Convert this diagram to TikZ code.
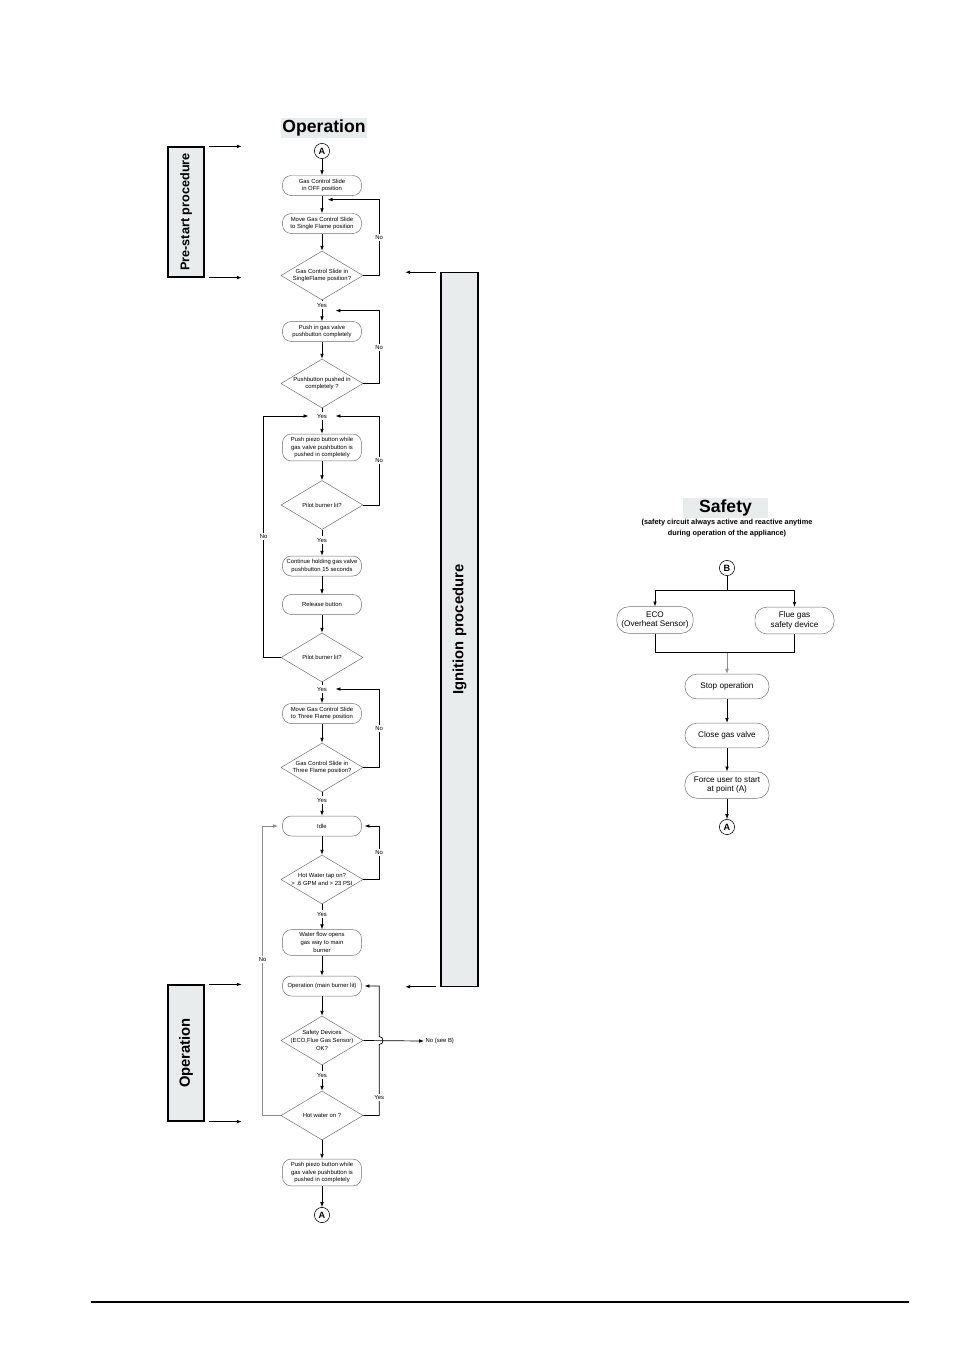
\documentclass[tikz,border=0pt]{standalone}
\usepackage{fontspec}
\setmainfont{Liberation Sans}
\usetikzlibrary{shapes.geometric,arrows.meta,calc,positioning}
\definecolor{sidegrey}{RGB}{232,236,236}
\definecolor{boxline}{RGB}{110,110,110}
\newcommand\tinyfont{\fontsize{4.2}{5.6}\selectfont}
\newcommand\smallfont{\fontsize{5.8}{7}\selectfont}

\tikzset{
  flow/.style={-{Latex[length=3.5pt,width=2.6pt]}, line width=0.5pt},
  line/.style={line width=0.5pt},
  stepbox/.style={draw=boxline, line width=0.35pt, rounded corners=0.22cm, minimum width=1.975cm, minimum height=0.5cm, inner xsep=1pt, inner ysep=2pt, align=center, font=\tinyfont},
  dtext/.style={align=center, font=\tinyfont, inner sep=0pt},
  decide/.style={diamond, draw=boxline, line width=0.35pt, minimum width=2.05cm, minimum height=1.225cm, inner sep=0pt, label={[dtext]center:{#1}}},
  lbl/.style={fill=white, inner sep=1pt, font=\tinyfont},
  yes/.style={inner xsep=6pt, inner ysep=1pt, font=\tinyfont},
  joint/.style={circle, draw, line width=0.4pt, minimum size=0.38cm, inner sep=0pt, font=\bfseries\fontsize{6.5}{7}\selectfont},
  sidebox/.style={draw, line width=0.8pt, fill=sidegrey, rotate=90, font=\bfseries\fontsize{10.5}{12}\selectfont},
  header/.style={fill=sidegrey, inner sep=1pt, minimum height=0.5cm, font=\bfseries\fontsize{12.5}{14}\selectfont},
  safebox/.style={draw=boxline, line width=0.35pt, rounded corners=0.3cm, minimum width=2.1cm, minimum height=0.62cm, align=center, font=\smallfont},
  subnote/.style={align=center, inner sep=0pt, font=\bfseries\fontsize{5.2}{7.6}\selectfont},
}

\begin{document}
\begin{tikzpicture}[x=0.025cm, y=-0.025cm]
  \useasboundingbox (0,0) rectangle (954,1350);

  % side bars
  \node[sidebox, minimum width=3.25cm, minimum height=0.9cm, font=\bfseries\fontsize{9}{10}\selectfont] (prestart) at (186,212) {Pre-start procedure};
  \draw[flow] ([xshift=3pt]prestart.south east) -- ++(33,0);
  \draw[flow] ([xshift=3pt]prestart.south west) -- ++(33,0);
  \node[sidebox, minimum width=17.83cm, minimum height=0.925cm] (ignition) at (459.5,629.5) {Ignition procedure};
  \draw[flow] ([xshift=-3pt]ignition.north east) -- ++(-31,0);
  \draw[flow] ([xshift=-3pt]ignition.north west) -- ++(-31,0);
  \node[sidebox, minimum width=3.4cm, minimum height=0.9cm] (opside) at (186,1053) {Operation};
  \draw[flow] ([xshift=3pt]opside.south east) -- ++(33,0);
  \draw[flow] ([xshift=3pt]opside.south west) -- ++(33,0);

  % operation chart
  \node[header, minimum width=2.15cm] (ophead) at (324,128) {Operation};
  \node[joint] (a1) at (322,151) {A};
  \node[stepbox] (n1) at (322,185.5) {Gas Control Slide\\in OFF position};
  \node[stepbox] (n2) at (322,223.5) {Move Gas Control Slide\\to Single Flame position};
  \node[decide={Gas Control Slide in\\SingleFlame position?}] (d1) at (322,275.5) {};
  \node[yes] (yes1) at (322,305) {Yes};
  \node[stepbox] (n3) at (322,331.5) {Push in gas valve\\pushbutton completely};
  \node[decide={Pushbutton pushed in\\completely ?}] (d2) at (322,383.5) {};
  \node[yes] (yes2) at (322,416) {Yes};
  \node[stepbox] (n4) at (322,447.5) {Push piezo button while\\gas valve pushbutton is\\pushed in completely};
  \node[decide={Pilot burner lit?}] (d3) at (322,505) {};
  \node[yes] (yes3) at (322,540) {Yes};
  \node[stepbox] (n5) at (322,566) {Continue holding gas valve\\pushbutton 15 seconds};
  \node[stepbox] (n6) at (322,604.5) {Release button};
  \node[decide={Pilot burner lit?}] (d4) at (322,657.5) {};
  \node[yes] (yes4) at (322,689) {Yes};
  \node[stepbox] (n7) at (322,713.5) {Move Gas Control Slide\\to Three Flame position};
  \node[decide={Gas Control Slide in\\Three Flame position?}] (d5) at (322,767.5) {};
  \node[yes] (yes5) at (322,800) {Yes};
  \node[stepbox] (idle) at (322,826) {Idle};
  \node[decide={Hot Water tap on?\\> .6 GPM and > 23 PSI}] (d6) at (322,879.5) {};
  \node[yes] (yes6) at (322,914) {Yes};
  \node[stepbox] (n9) at (322,942.5) {Water flow opens\\gas way to main\\burner};
  \node[stepbox] (oper) at (322,986) {Operation (main burner lit)};
  \node[decide={Safety Devices\\(ECO,Flue Gas Sensor)\\OK?}] (d7) at (322,1040.5) {};
  \node[yes] (yes7) at (322,1075) {Yes};
  \node[decide={Hot water on ?}] (d8) at (322,1115.5) {};
  \node[stepbox] (n11) at (322,1172.5) {Push piezo button while\\gas valve pushbutton is\\pushed in completely};
  \node[joint] (a2) at (322,1215) {A};
  \node[anchor=west, font=\tinyfont, inner sep=1pt] (seeB) at (424,1041) {No (see B)};
  \coordinate (j1) at ($(n1.south)!0.22!(n2.north)$);

  % main line
  \draw[flow] (a1) -- (n1);
  \draw[flow] (n1) -- (n2);
  \draw[flow] (n2) -- (d1);
  \draw[line] (d1) -- (yes1);
  \draw[flow] (yes1) -- (n3);
  \draw[flow] (n3) -- (d2);
  \draw[line] (d2) -- (yes2);
  \draw[flow] (yes2) -- (n4);
  \draw[flow] (n4) -- (d3);
  \draw[line] (d3) -- (yes3);
  \draw[flow] (yes3) -- (n5);
  \draw[flow] (n5) -- (n6);
  \draw[flow] (n6) -- (d4);
  \draw[line] (d4) -- (yes4);
  \draw[flow] (yes4) -- (n7);
  \draw[flow] (n7) -- (d5);
  \draw[line] (d5) -- (yes5);
  \draw[flow] (yes5) -- (idle);
  \draw[flow] (idle) -- (d6);
  \draw[line] (d6) -- (yes6);
  \draw[flow] (yes6) -- (n9);
  \draw[flow] (n9) -- (oper);
  \draw[flow] (oper) -- (d7);
  \draw[line] (d7) -- (yes7);
  \draw[flow] (yes7) -- (d8);
  \draw[flow] (d8) -- (n11);
  \draw[flow] (n11) -- (a2);

  % loops
  \draw[flow] (d1.east) -- ++(16,0) |- node[lbl, pos=0.25] {No} ([xshift=4pt]j1);
  \draw[flow] (d2.east) -- ++(16,0) |- node[lbl, pos=0.25] {No} ([yshift=-4pt]yes1.east);
  \draw[flow] (d3.east) -- ++(16,0) |- node[lbl, pos=0.25] {No} (yes2.east);
  \draw[flow] (d4.west) -- ++(-17,0) |- node[lbl, pos=0.25] {No} (yes2.west);
  \draw[flow] (d5.east) -- ++(16,0) |- node[lbl, pos=0.25] {No} (yes4.east);
  \draw[flow, shorten >=2pt] (d6.east) -- ++(16,0) |- node[lbl, pos=0.25] {No} (idle.east);
  \draw[flow, black!45, shorten >=3pt] (d8.west) -- ++(-18,0) |- node[lbl, text=black, pos=0.27] {No} (idle.west);
  \draw[flow] (d7.east) -- (seeB.west);
  \draw[flow, shorten >=2pt] (d8.east) -- ++(16,0) coordinate (hop)
    -- ($(hop|-d7.east)+(0,4)$) node[lbl, pos=0.25] {Yes}
    .. controls +(5,0) and +(5,0) .. ($(hop|-d7.east)+(0,-4)$) |- (oper.east);

  % safety chart
  \node[header, minimum width=2.12cm] (safehead) at (725.5,508) {Safety};
  \node[subnote] (safenote) at (727,528) {(safety circuit always active and reactive anytime\\during operation of the appliance)};
  \node[joint] (b) at (727,568) {B};
  \node[safebox, minimum width=1.9cm] (eco) at (655,620) {ECO\\(Overheat Sensor)};
  \node[safebox, minimum width=1.975cm] (flue) at (794.5,620.5) {Flue gas\\safety device};
  \node[safebox] (stop) at (727,686.5) {Stop operation};
  \node[safebox] (close) at (727,735.5) {Close gas valve};
  \node[safebox] (force) at (727,785) {Force user to start\\at point (A)};
  \node[joint] (a3) at (727,827) {A};

  \draw[line] (b) -- ++(0,22) coordinate (split);
  \draw[flow] (split) -| (eco.north);
  \draw[flow] (split) -| (flue.north);
  \draw[line] (eco.south) -- ++(0,19) coordinate (merge) -| (flue.south);
  \draw[flow, black!45] (stop.north |- merge) -- (stop.north);
  \draw[flow] (stop) -- (close);
  \draw[flow] (close) -- (force);
  \draw[flow] (force) -- (a3);

  % page rule
  \draw[line width=0.8pt] (91,1302) -- (909,1302);
\end{tikzpicture}
\end{document}
